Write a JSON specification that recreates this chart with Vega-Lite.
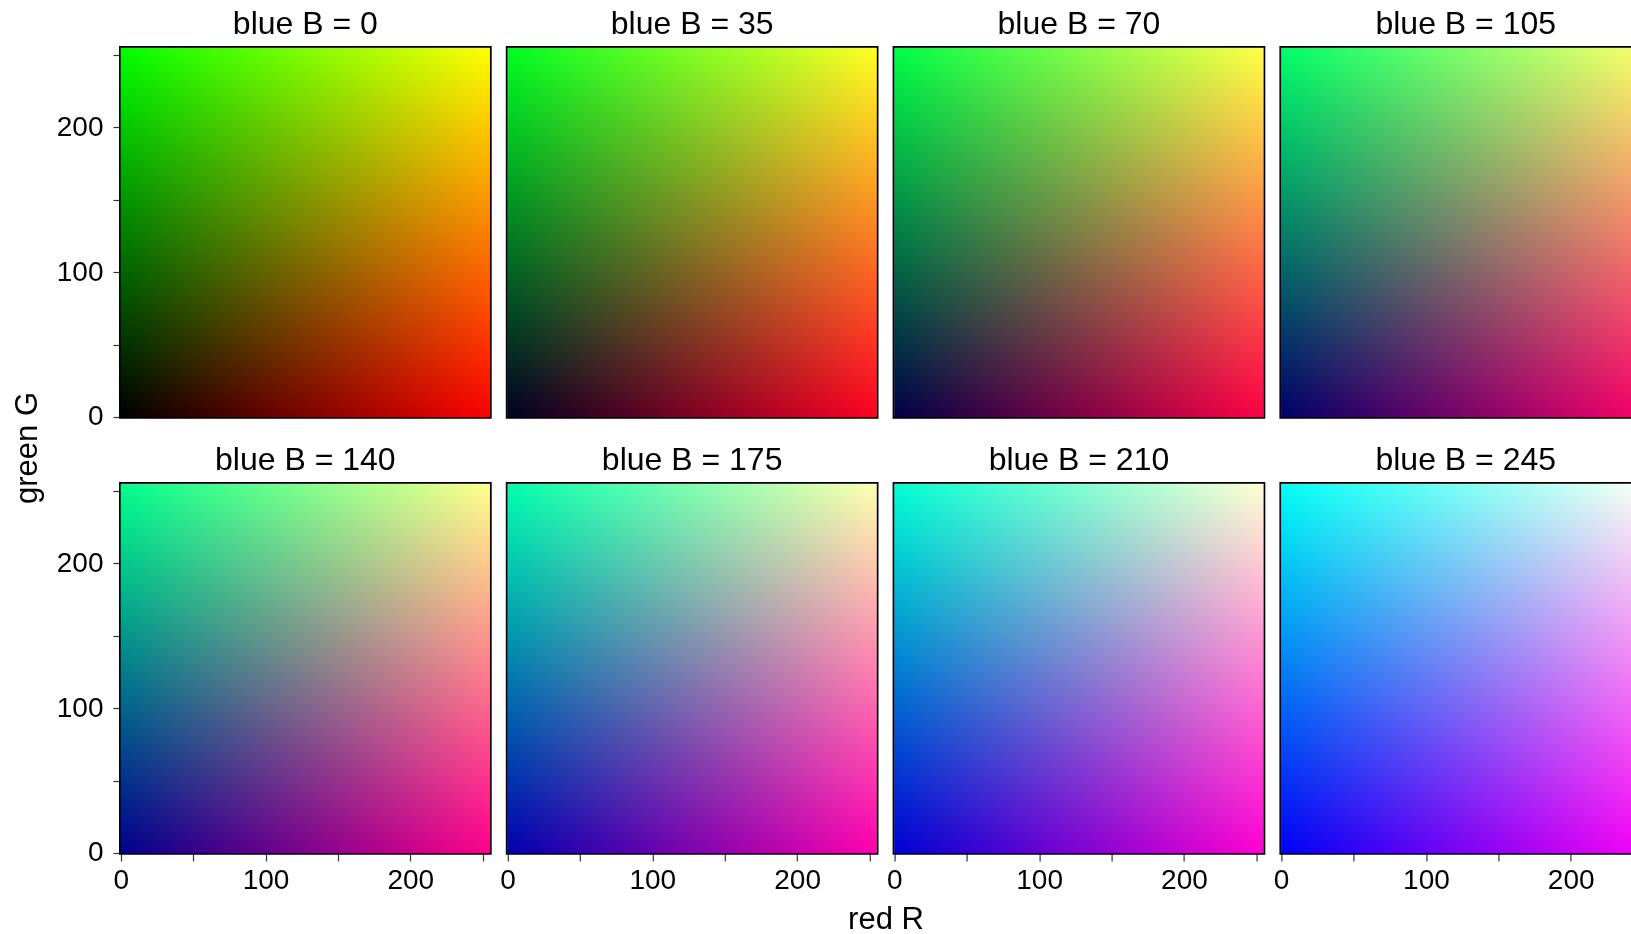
{
  "$schema": "https://vega.github.io/schema/vega-lite/v6.json",
  "padding": {"left": 12, "top": 7, "right": 0, "bottom": 0},
  "background": "white",
  "bounds": "flush",
  "title": {
    "text": "green G",
    "orient": "left",
    "anchor": "middle",
    "font": "Liberation Sans",
    "fontSize": 31,
    "fontWeight": "normal",
    "color": "black",
    "offset": 12,
    "dx": 23
  },
  "data": {
    "values": [
      {"b": 0, "r_lo": 0, "r_hi": 255, "g_lo": 0, "g_hi": 255},
      {"b": 35, "r_lo": 0, "r_hi": 255, "g_lo": 0, "g_hi": 255},
      {"b": 70, "r_lo": 0, "r_hi": 255, "g_lo": 0, "g_hi": 255},
      {"b": 105, "r_lo": 0, "r_hi": 255, "g_lo": 0, "g_hi": 255},
      {"b": 140, "r_lo": 0, "r_hi": 255, "g_lo": 0, "g_hi": 255},
      {"b": 175, "r_lo": 0, "r_hi": 255, "g_lo": 0, "g_hi": 255},
      {"b": 210, "r_lo": 0, "r_hi": 255, "g_lo": 0, "g_hi": 255},
      {"b": 245, "r_lo": 0, "r_hi": 255, "g_lo": 0, "g_hi": 255}
    ]
  },
  "facet": {
    "field": "b",
    "type": "ordinal",
    "sort": [0, 35, 70, 105, 140, 175, 210, 245],
    "title": "red R",
    "header": {
      "labelExpr": "'blue B = ' + datum.value",
      "labelFont": "Liberation Sans",
      "labelFontSize": 32,
      "labelColor": "black",
      "labelPadding": 6,
      "titleOrient": "bottom",
      "titleFont": "Liberation Sans",
      "titleFontSize": 31,
      "titleFontWeight": "normal",
      "titleColor": "black",
      "titlePadding": 11
    }
  },
  "columns": 4,
  "spacing": {"column": 15.8, "row": 65},
  "spec": {
    "width": 370.7,
    "height": 370.7,
    "encoding": {
      "x": {
        "field": "r_lo",
        "type": "quantitative",
        "title": null,
        "scale": {"domain": [-0.5, 255.5], "nice": false, "zero": false},
        "axis": {
          "values": [0, 50, 100, 150, 200, 250],
          "labelExpr": "datum.value % 100 === 0 ? datum.label : ''"
        }
      },
      "x2": {"field": "r_hi"},
      "y": {
        "field": "g_lo",
        "type": "quantitative",
        "title": null,
        "scale": {"domain": [-0.5, 255.5], "nice": false, "zero": false},
        "axis": {
          "values": [0, 50, 100, 150, 200, 250],
          "labelExpr": "datum.value % 100 === 0 ? datum.label : ''"
        }
      },
      "y2": {"field": "g_hi"}
    },
    "layer": [
      {
        "mark": {"type": "rect", "strokeWidth": 0},
        "encoding": {
          "color": {
            "field": "b",
            "type": "quantitative",
            "scale": {"domain": [0, 255], "range": ["#000000", "#0000ff"], "interpolate": "rgb"},
            "legend": null
          }
        }
      },
      {
        "mark": {
          "type": "rect",
          "strokeWidth": 0,
          "blend": "lighten",
          "fill": {
            "gradient": "linear",
            "x1": 0, "y1": 0, "x2": 1, "y2": 0,
            "stops": [
              {"offset": 0, "color": "#000000"},
              {"offset": 1, "color": "#ff0000"}
            ]
          }
        }
      },
      {
        "mark": {
          "type": "rect",
          "strokeWidth": 0,
          "blend": "lighten",
          "fill": {
            "gradient": "linear",
            "x1": 0, "y1": 0, "x2": 0, "y2": 1,
            "stops": [
              {"offset": 0, "color": "#00ff00"},
              {"offset": 1, "color": "#000000"}
            ]
          }
        }
      }
    ]
  },
  "config": {
    "font": "Liberation Sans",
    "view": {"stroke": "black", "strokeWidth": 2},
    "axis": {
      "grid": false,
      "domain": false,
      "tickSize": 7,
      "tickColor": "#333333",
      "tickWidth": 1.2,
      "labelFont": "Liberation Sans",
      "labelFontSize": 28,
      "labelColor": "black",
      "labelOverlap": false,
      "labelFlush": false
    },
    "axisX": {"labelPadding": 5},
    "axisY": {"labelPadding": 10}
  }
}
